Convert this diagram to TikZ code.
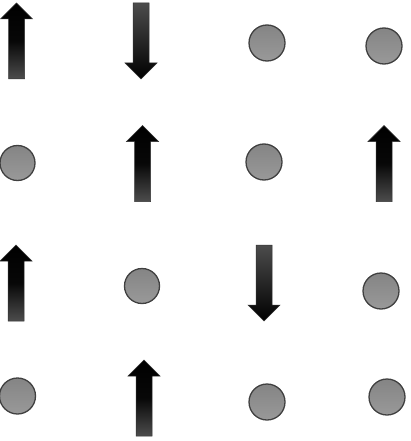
\documentclass[tikz,border=0pt]{standalone}
\usetikzlibrary{calc}
\begin{document}
\begin{tikzpicture}[x=1pt,y=-1pt,
  ball/.style={circle,draw=black!75,line width=1.3pt,inner sep=0pt,minimum size=36pt,
    top color=black!48,bottom color=black!40},
  arrowbody/.style={draw=black!80,line width=0.5pt,top color=black,bottom color=black!70,middle color=black!97},
  upar/.pic={\path[arrowbody] (-8,38) -- (-8,-22) -- (-16,-22) -- (0,-38) -- (16,-22) -- (8,-22) -- (8,38) -- cycle;},
  downar/.pic={\path[arrowbody,top color=black!70,bottom color=black] (-8,-38) -- (-8,22) -- (-16,22) -- (0,38) -- (16,22) -- (8,22) -- (8,-38) -- cycle;}
]
\useasboundingbox (0,0) rectangle (410,441);
% row 1
\pic at (16.5,41) {upar};
\pic at (141,41) {downar};
\node[ball] (c13) at (267,43) {};
\node[ball] (c14) at (384,46) {};
% row 2
\node[ball,minimum size=35pt] (c21) at (17.5,163) {};
\pic at (142.5,163.5) {upar};
\node[ball] (c23) at (264,162) {};
\pic at (384,163.5) {upar};
% row 3
\pic at (16,283) {upar};
\node[ball,minimum size=35pt] (c32) at (142,286) {};
\pic at (264,283) {downar};
\node[ball] (c34) at (381,291) {};
% row 4
\node[ball] (c41) at (17.5,396) {};
\pic at (144,398) {upar};
\node[ball] (c43) at (267,402) {};
\node[ball] (c44) at (387,397) {};
\end{tikzpicture}
\end{document}
